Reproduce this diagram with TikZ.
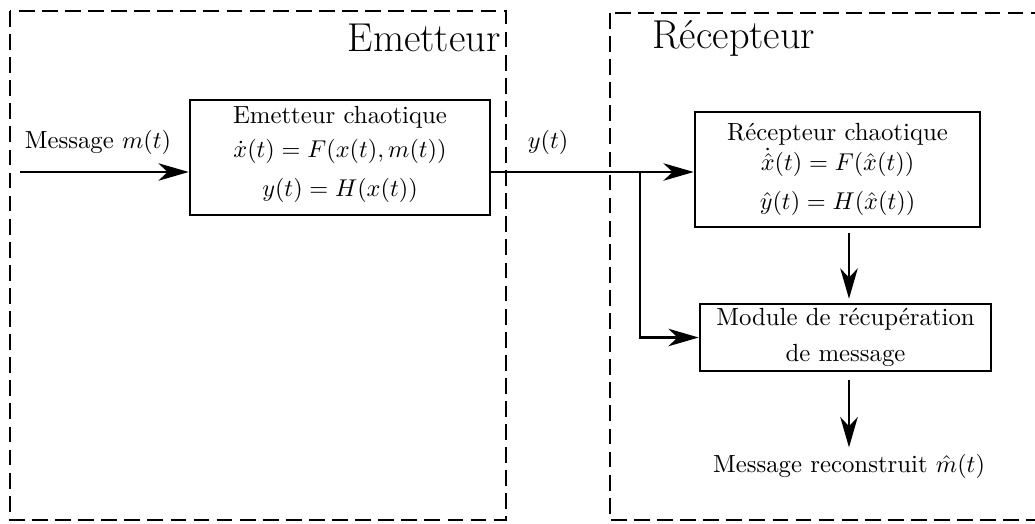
\documentclass[tikz,border=0pt]{standalone}
\usepackage{fontspec}
\usetikzlibrary{arrows.meta}
\begin{document}
\begin{tikzpicture}[x=0.4115pt,y=-0.4115pt,
  frame/.style={draw,line width=0.8pt,dash pattern=on 6.5pt off 3pt},
  blockbox/.style={draw,line width=1.05pt,inner sep=0pt},
  conn/.style={line width=0.95pt},
  arr/.style={conn,-{Stealth[length=12.5pt,width=7.2pt,inset=3.8pt]}},
  title/.style={font=\fontsize{16.6}{19}\selectfont,inner sep=0pt},
  txt/.style={font=\fontsize{10.2}{12.2}\selectfont,inner sep=0pt,align=center}]
\clip (0,0) rectangle (1035,523);
\useasboundingbox (0,0) rectangle (1035,523);
% frames
\draw[frame] (10,11) rectangle (506,520);
\draw[frame] (610,13) rectangle (1060,520);
\node[title,anchor=east] (tE) at (501,38) {Emetteur};
\node[title,anchor=west] (tR) at (652,38) {Récepteur};
% blocks
\node[blockbox,txt,minimum width=300*0.4115pt,minimum height=115*0.4115pt] (emet) at (340,157.5)
  {Emetteur chaotique\\[1.8pt] $\dot{x}(t)=F(x(t),m(t))$\\[3.5pt] $y(t)=H(x(t))$\\[-7.2pt]\mbox{}};
\node[blockbox,txt,minimum width=285*0.4115pt,minimum height=115*0.4115pt] (recv) at (837.5,169.5)
  {Récepteur chaotique\\[0.5pt] $\dot{\hat{x}}(t)=F(\hat{x}(t))$\\[3.5pt] $\hat{y}(t)=H(\hat{x}(t))$\\[-9.3pt]\mbox{}};
\node[blockbox,txt,minimum width=291*0.4115pt,minimum height=67*0.4115pt] (mod) at (845.5,337.5) {Module de récupération\\[2.5pt] de message};
\node[txt] (out) at (849,466) {Message reconstruit $\hat{m}(t)$};
\node[txt] (lm) at (98,142) {Message $m(t)$};
\node[txt] (ly) at (548,142) {$y(t)$};
% connectors
\coordinate (in) at (20,172);
\coordinate (br) at (640,172);
\draw[arr] (in) -- (in -| emet.west);
\draw[arr] (in -| emet.east) -- (in -| recv.west);
\draw[arr] (br) |- (mod.west);
\draw[arr,shorten <=4.5*0.4115pt,shorten >=4*0.4115pt] (recv.south -| out) -- (mod.north -| out);
\draw[arr,shorten <=8*0.4115pt,shorten >=6*0.4115pt] (mod.south -| out) -- (out.north);
\end{tikzpicture}
\end{document}
